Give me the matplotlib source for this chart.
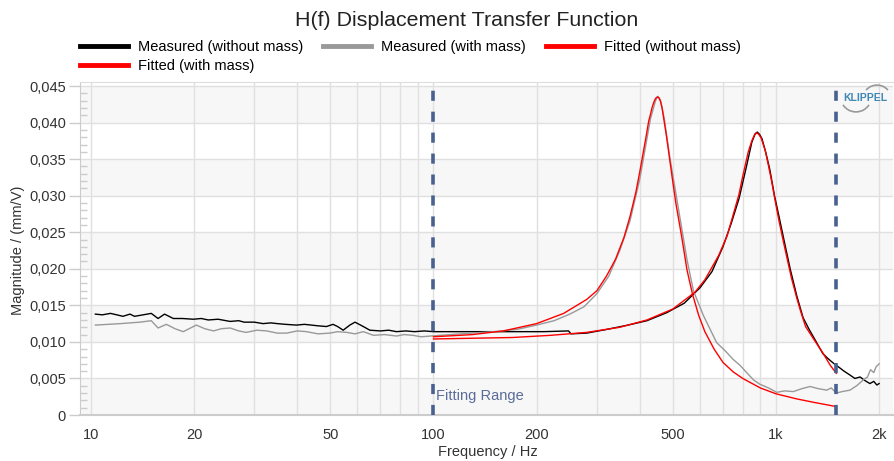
import matplotlib
matplotlib.use('Agg')
import matplotlib.pyplot as plt
from matplotlib.lines import Line2D
from matplotlib.patches import Arc
from matplotlib.transforms import IdentityTransform

plt.rcParams['font.family'] = ['Liberation Sans', 'DejaVu Sans']

# measured, without mass (black)
f_meas_n = [10.3, 10.8, 11.4, 11.9, 12.4, 13.0, 13.4, 14.2, 15.0, 15.7, 16.4, 17.4, 18.5, 19.9,
            21, 22, 23.5, 25.5, 27, 28, 30, 31.8, 33.5, 35, 37, 39.8, 42, 44, 46, 48.7, 50.9,
            52.5, 54.5, 57, 59.0, 62.4, 65.2, 70, 74, 78, 83, 88, 94, 100, 120, 150, 180, 210,
            248, 252, 280, 320, 370, 420, 480, 540, 600, 650, 700, 740, 780, 820, 850, 870,
            882, 895, 910, 935, 960, 990, 1020, 1060, 1100, 1150, 1200, 1250, 1300, 1370,
            1420, 1470, 1520, 1580, 1640, 1700, 1760, 1820, 1880, 1930, 1970, 2000]
v_meas_n = [0.0138, 0.0137, 0.0139, 0.0137, 0.0135, 0.0138, 0.0135, 0.0137, 0.0139, 0.0132,
            0.0138, 0.0132, 0.0132, 0.0131, 0.0132, 0.0130, 0.0131, 0.0128, 0.0129, 0.0127,
            0.0127, 0.0125, 0.0126, 0.0125, 0.0124, 0.0123, 0.0124, 0.0123, 0.0122, 0.0121,
            0.0124, 0.0121, 0.0116, 0.0123, 0.0127, 0.0121, 0.0116, 0.0115, 0.0116, 0.0114,
            0.0115, 0.0114, 0.0115, 0.0114, 0.0114, 0.0114, 0.0114, 0.0114, 0.0115, 0.0111,
            0.0112, 0.0117, 0.0123, 0.0129, 0.0140, 0.0153, 0.0174, 0.0196, 0.0230, 0.0262,
            0.0296, 0.0340, 0.0373, 0.0385, 0.0387, 0.0384, 0.0378, 0.0358, 0.0335, 0.0300,
            0.0272, 0.0235, 0.0200, 0.0163, 0.0133, 0.0117, 0.0103, 0.0084, 0.0077, 0.0071,
            0.0066, 0.0060, 0.0055, 0.0050, 0.0052, 0.0047, 0.0043, 0.0046, 0.0041, 0.0043]

# measured, with mass (gray)
f_meas_m = [10.3, 11.2, 12.2, 13.0, 13.9, 15.0, 15.7, 16.6, 17.6, 18.6, 20.3, 21.5, 22.8, 24,
            25.5, 27, 28.4, 30.5, 32.6, 35, 37.3, 40, 42.6, 46, 49.8, 52.5, 55.8, 59, 62.4,
            66.8, 72, 78, 82, 87, 92, 98, 120, 150, 175, 200, 225, 250, 275, 300, 325, 350,
            375, 400, 430, 445, 452, 460, 472, 490, 520, 550, 574, 614, 671, 710, 750, 785,
            821, 860, 898, 930, 960, 1005, 1060, 1123, 1190, 1257, 1330, 1406, 1450, 1500,
            1560, 1644, 1720, 1799, 1850, 1888, 1930, 1960, 2000]
v_meas_m = [0.0123, 0.0124, 0.0125, 0.0126, 0.0127, 0.0129, 0.0119, 0.0124, 0.0118, 0.0114,
            0.0123, 0.0118, 0.0115, 0.0118, 0.0119, 0.0115, 0.0113, 0.0116, 0.0115, 0.0112,
            0.0112, 0.0115, 0.0114, 0.0111, 0.0112, 0.0114, 0.0113, 0.0111, 0.0114, 0.0109,
            0.0110, 0.0108, 0.0110, 0.0109, 0.0107, 0.0108, 0.0111, 0.0114, 0.0117, 0.0123,
            0.0129, 0.0138, 0.0148, 0.0166, 0.0190, 0.0225, 0.0266, 0.0322, 0.0405, 0.0430,
            0.0436, 0.0431, 0.0405, 0.0352, 0.0280, 0.0212, 0.0170, 0.0136, 0.0099, 0.0088,
            0.0076, 0.0068, 0.0058, 0.0048, 0.0042, 0.0039, 0.0036, 0.0031, 0.0033, 0.0032,
            0.0036, 0.0039, 0.0036, 0.0034, 0.0037, 0.0030, 0.0032, 0.0034, 0.0040, 0.0048,
            0.0052, 0.0062, 0.0058, 0.0066, 0.0070]

# fitted, without mass
f_fit_n = [100, 130, 170, 220, 280, 350, 420, 500, 580, 620, 680, 720, 750, 780, 800, 830,
           850, 865, 878, 890, 905, 930, 950, 970, 1000, 1020, 1050, 1080, 1110, 1150, 1180,
           1220, 1300, 1370, 1440, 1500]
v_fit_n = [0.0104, 0.0105, 0.0106, 0.0109, 0.0113, 0.0120, 0.0130, 0.0145, 0.0168, 0.0185,
           0.0218, 0.0245, 0.0274, 0.0302, 0.0327, 0.0360, 0.0375, 0.0383, 0.0386, 0.0384,
           0.0379, 0.0362, 0.0342, 0.0321, 0.0287, 0.0266, 0.0238, 0.0212, 0.0187, 0.0160,
           0.0142, 0.0121, 0.0101, 0.0085, 0.0068, 0.0057]

# fitted, with mass
f_fit_m = [100, 130, 160, 200, 240, 280, 300, 320, 340, 360, 375, 390, 400, 410, 418, 425,
           430, 435, 440, 445, 450, 455, 460, 465, 470, 478, 485, 500, 510, 530, 550, 570,
           595, 620, 660, 700, 750, 800, 900, 1000, 1150, 1300, 1500]
v_fit_m = [0.0107, 0.0110, 0.0115, 0.0125, 0.0139, 0.0158, 0.0170, 0.0190, 0.0213, 0.0243,
           0.0272, 0.0305, 0.0332, 0.0360, 0.0382, 0.0402, 0.0411, 0.0421, 0.0428, 0.0433,
           0.0435, 0.0434, 0.0429, 0.0420, 0.0406, 0.0384, 0.0363, 0.0318, 0.0290, 0.0245,
           0.0198, 0.0166, 0.0136, 0.0114, 0.0090, 0.0072, 0.0059, 0.0050, 0.0037, 0.0029,
           0.0022, 0.0017, 0.00115]

grid_freqs = [10, 20, 30, 40, 50, 60, 70, 80, 90, 100, 200, 300, 400, 500, 600, 700, 800,
              900, 1000, 2000]
x_labels = {10: '10', 20: '20', 50: '50', 100: '100', 200: '200', 500: '500',
            1000: '1k', 2000: '2k'}
y_ticks = [0, 0.005, 0.010, 0.015, 0.020, 0.025, 0.030, 0.035, 0.040, 0.045]
fit_range = [100, 1500]

W, H = 894, 461
fig = plt.figure(figsize=(W / 100, H / 100), dpi=100)
ax = fig.add_axes([80 / W, 1 - 415 / H, (893 - 80) / W, (415 - 82) / H])

# alternating bands
for i in range(10):
    if i % 2 == 0:
        ax.axhspan(i * 0.005, (i + 1) * 0.005, color='#f7f7f7', lw=0, zorder=0)

ax.plot(f_meas_n, v_meas_n, color='black', lw=1.0, zorder=3)
ax.plot(f_meas_m, v_meas_m, color='#999999', lw=1.0, zorder=3)
ax.plot(f_fit_n, v_fit_n, color='#ff0000', lw=1.0, zorder=4)
ax.plot(f_fit_m, v_fit_m, color='#ff0000', lw=1.0, zorder=4)

for fr in fit_range:
    ax.axvline(fr, color='#48618f', lw=2.6, linestyle=(0, (2.8, 3.0)), zorder=5)
ax.text(102, 0.0026, 'Fitting Range', color='#5a6c99', fontsize=10.5, va='center', ha='left',
        zorder=6)

ax.set_xscale('log')
ax.set_xlim(9.29, 2196)
ax.set_ylim(0, 0.04555)

ax.set_xticks(grid_freqs)
ax.set_xticklabels([x_labels.get(f, '') for f in grid_freqs])
ax.xaxis.set_minor_locator(matplotlib.ticker.NullLocator())
ax.set_yticks(y_ticks)
ax.set_yticklabels(['0' if v == 0 else f'{v:.3f}'.replace('.', ',') for v in y_ticks])
ax.set_yticks([i * 0.001 for i in range(46)], minor=True)

ax.grid(True, which='major', color='#e0e0e0', lw=1.0, zorder=1)
ax.set_axisbelow(True)
ax.tick_params(axis='x', length=0, pad=9, labelsize=10.5, labelcolor='#333333')
ax.tick_params(axis='y', which='major', length=8, width=1, color='#cccccc', pad=2,
               labelsize=10.5, labelcolor='#333333')
ax.tick_params(axis='y', which='minor', direction='in', length=5, width=1, color='#cccccc')

ax.spines['right'].set_visible(False)
ax.spines['top'].set_color('#dddddd')
ax.spines['left'].set_color('#cccccc')
ax.spines['bottom'].set_color('#cccccc')
ax.spines['bottom'].set_linewidth(1.5)

fig.text(467 / W, 1 - 21 / H, 'H(f) Displacement Transfer Function', ha='center', va='center',
         fontsize=15.4, color='#222222')
fig.text(18 / W, 1 - 250 / H, 'Magnitude / (mm/V)', rotation=90, ha='center', va='center',
         fontsize=10.5, color='#333333')
fig.text(488 / W, 1 - 452 / H, 'Frequency / Hz', ha='center', va='center', fontsize=10.5,
         color='#333333')

handles = [Line2D([], [], color='black', lw=3.5),
           Line2D([], [], color='#ff0000', lw=3.5),
           Line2D([], [], color='#999999', lw=3.5),
           Line2D([], [], color='#ff0000', lw=3.5)]
labels = ['Measured (without mass)', 'Fitted (with mass)', 'Measured (with mass)',
          'Fitted (without mass)']
fig.legend(handles, labels, loc='upper left', bbox_to_anchor=(80 / W, 1 - 40 / H), ncol=3,
           frameon=False, fontsize=10.5, handlelength=3.3, handletextpad=0.69,
           columnspacing=1.35, labelspacing=0.33, borderpad=0, borderaxespad=0)

# KLIPPEL logo
fig.text(865 / W, 1 - 98 / H, 'KLIPPEL', ha='center', va='center', fontsize=7.5,
         fontweight='bold', color='#3f87b5')
fig.add_artist(Arc((877, H - 99.6), 29, 29, theta1=41, theta2=139, color='#999999', lw=1.2,
                   transform=IdentityTransform()))
fig.add_artist(Arc((856, H - 96.4), 31, 31, theta1=213, theta2=327, color='#999999', lw=1.2,
                   transform=IdentityTransform()))

fig.savefig('out.png', dpi=100)
